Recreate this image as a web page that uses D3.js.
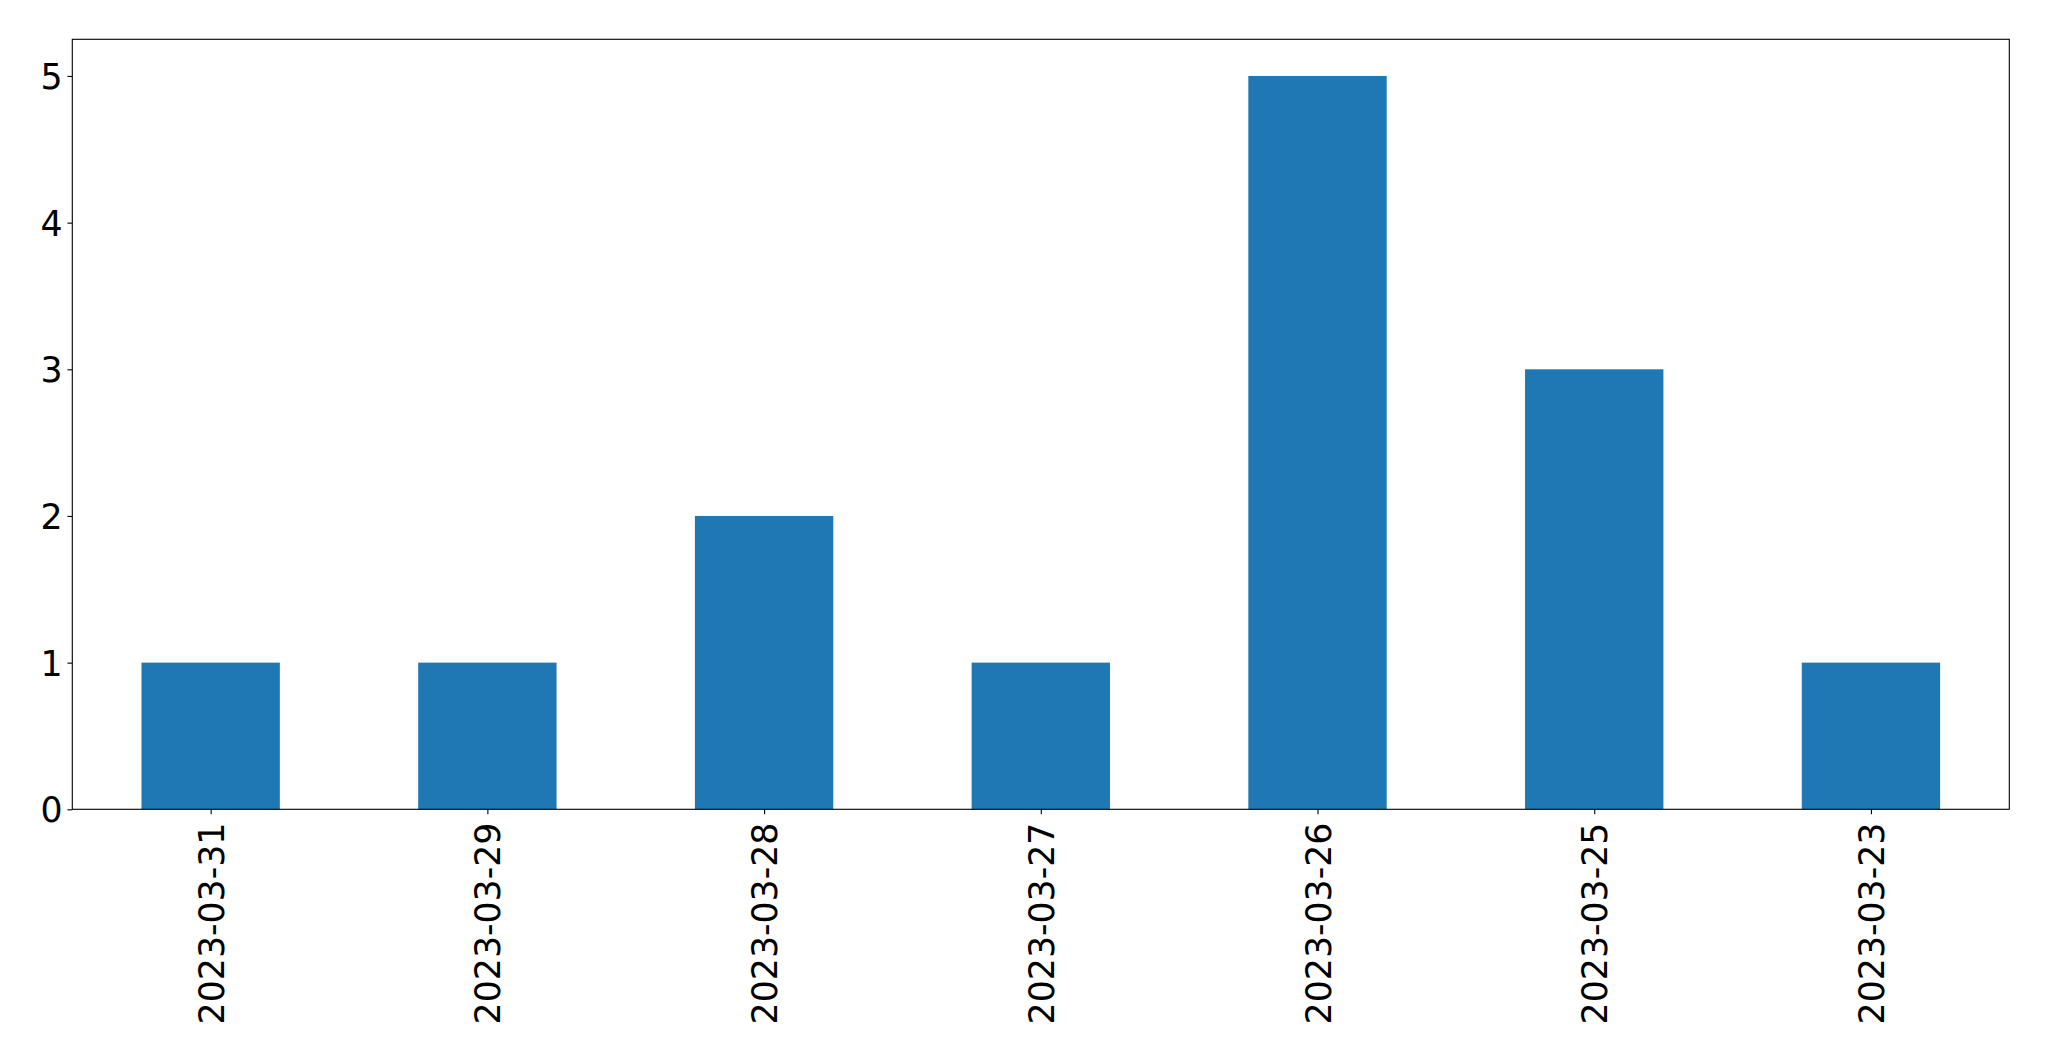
<!DOCTYPE html>
<html>
<head>
<meta charset="utf-8">
<script src="https://cdn.jsdelivr.net/npm/d3@7"></script>
<style>
html,body{margin:0;padding:0;background:#fff;}
svg{display:block;}
</style>
</head>
<body>
<script>
const categories = ["2023-03-31","2023-03-29","2023-03-28","2023-03-27","2023-03-26","2023-03-25","2023-03-23"];
const values = [1,1,2,1,5,3,1];
const yTicks = [0,1,2,3,4,5];

const W = 2049, H = 1061;
const m = {left:72.3, right:2009.3, top:39.3, bottom:809.3};
const fs = 34.72;
const font = "DejaVu Sans, sans-serif";

const svg = d3.select("body").append("svg").attr("width",W).attr("height",H);

const x = d3.scaleLinear().domain([-0.5, categories.length-0.5]).range([m.left, m.right]);
const y = d3.scaleLinear().domain([0, 5.25]).range([m.bottom, m.top]);
const bw = 0.5;

svg.append("g").selectAll("rect").data(values).enter().append("rect")
  .attr("x",(d,i)=>x(i-bw/2))
  .attr("width",(d,i)=>x(i+bw/2)-x(i-bw/2))
  .attr("y",d=>y(d))
  .attr("height",d=>y(0)-y(d))
  .attr("fill","#1f77b4");

// Y axis
const yAxis = d3.axisLeft(y).tickValues(yTicks).tickSize(4.86).tickPadding(4.86).tickFormat(d3.format("d"));
const gy = svg.append("g").attr("transform",`translate(${m.left},0)`).call(yAxis);
gy.select(".domain").remove();
gy.selectAll("line").attr("stroke","#000").attr("stroke-width",1.1);
gy.selectAll("text").attr("font-family",font).attr("font-size",fs).attr("fill","#000").attr("dy","0.36em");

// X axis
const xAxis = d3.axisBottom(x).tickValues(d3.range(categories.length)).tickSize(4.86).tickFormat(i=>categories[i]);
const gx = svg.append("g").attr("transform",`translate(0,${m.bottom})`).call(xAxis);
gx.select(".domain").remove();
gx.selectAll("line").attr("stroke","#000").attr("stroke-width",1.1);
gx.selectAll("text")
  .attr("font-family",font).attr("font-size",fs).attr("fill","#000")
  .attr("text-anchor","end")
  .attr("y",0).attr("dy","0.36em")
  .attr("transform","translate(0,13.3) rotate(-90)");

// Frame
svg.append("rect").attr("x",m.left).attr("y",m.top)
  .attr("width",m.right-m.left).attr("height",m.bottom-m.top)
  .attr("fill","none").attr("stroke","#000").attr("stroke-width",1.1);
</script>
</body>
</html>
